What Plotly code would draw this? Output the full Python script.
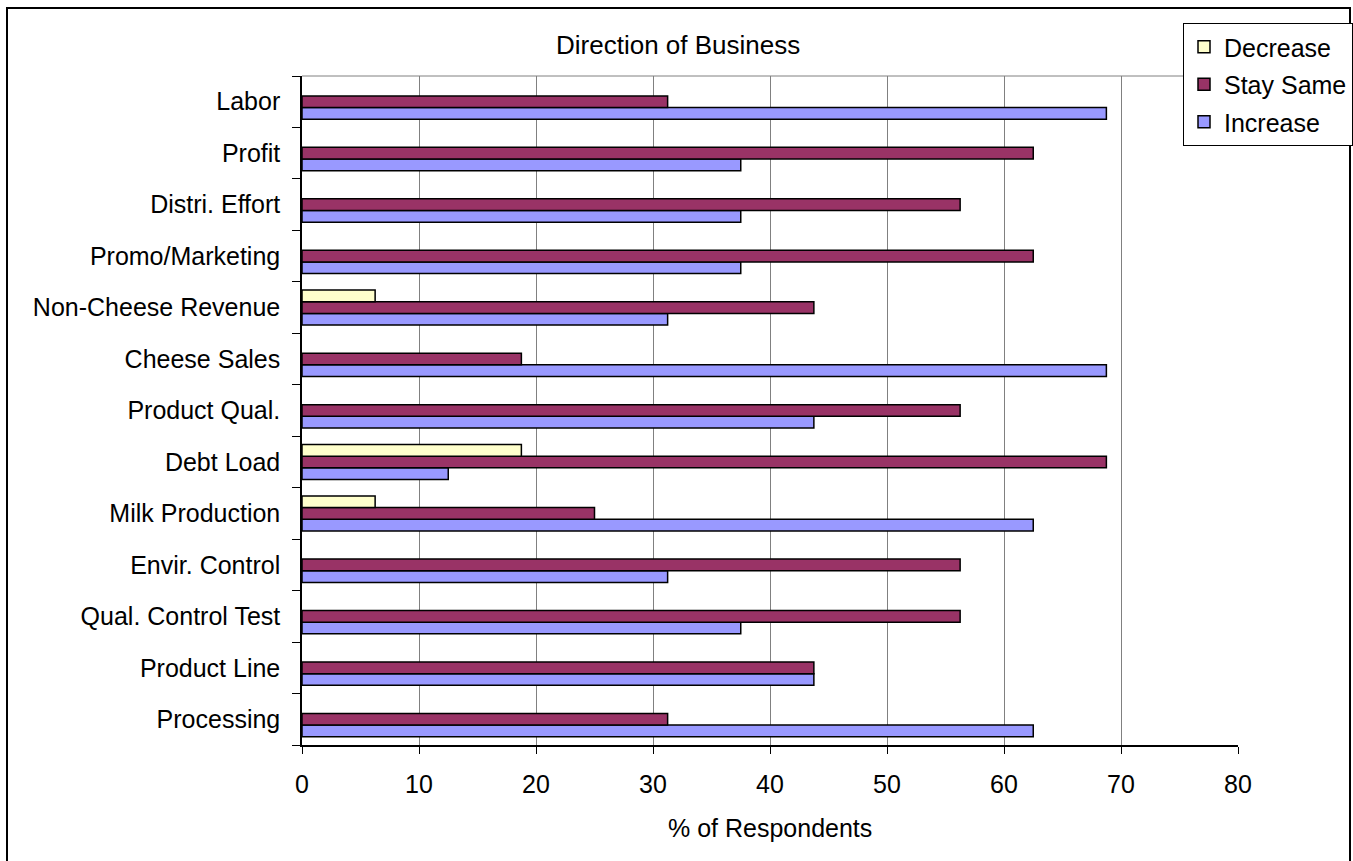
import plotly.graph_objects as go

categories = ["Processing", "Product Line", "Qual. Control Test", "Envir. Control",
              "Milk Production", "Debt Load", "Product Qual.", "Cheese Sales",
              "Non-Cheese Revenue", "Promo/Marketing", "Distri. Effort", "Profit", "Labor"]
decrease = [0, 0, 0, 0, 6.25, 18.75, 0, 0, 6.25, 0, 0, 0, 0]
stay_same = [31.25, 43.75, 56.25, 56.25, 25, 68.75, 56.25, 18.75, 43.75, 62.5, 56.25, 62.5, 31.25]
increase = [62.5, 43.75, 37.5, 31.25, 62.5, 12.5, 43.75, 68.75, 31.25, 37.5, 37.5, 37.5, 68.75]
x_ticks = [0, 10, 20, 30, 40, 50, 60, 70, 80]

FONT = "Liberation Sans, Arial, sans-serif"
FS = 25

W, H = 1353, 861
L, R, T, B = 302, 1238, 76, 745


def px_x(p):
    return (p - L) / (R - L)


def px_y(p):
    return (B - p) / (B - T)


def nz(vals):
    # zero-length bars are not drawn (no outline stub on the axis)
    return [v if v else None for v in vals]


fig = go.Figure()
line = dict(color="black", width=1.5)
fig.add_trace(go.Bar(name="Increase", y=categories, x=nz(increase), orientation="h",
                     legendgroup="c", legendrank=3,
                     marker=dict(color="#9999FF", line=line)))
fig.add_trace(go.Bar(name="Stay Same", y=categories, x=nz(stay_same), orientation="h",
                     legendgroup="b", legendrank=2,
                     marker=dict(color="#993366", line=line)))
fig.add_trace(go.Bar(name="Decrease", y=categories, x=nz(decrease), orientation="h",
                     legendgroup="a", legendrank=1,
                     marker=dict(color="#FFFFCC", line=line)))

fig.update_layout(
    width=W, height=H, autosize=False,
    margin=dict(l=L, r=W - R, t=T, b=H - B, pad=0, autoexpand=False),
    paper_bgcolor="white", plot_bgcolor="white",
    barmode="group", bargap=0.32, bargroupgap=0,
    font=dict(family=FONT, size=FS, color="black"),
    showlegend=True,
    legend=dict(traceorder="grouped", tracegroupgap=2,
                x=px_x(1183), y=px_y(23),
                xanchor="left", yanchor="top",
                bgcolor="white", bordercolor="black", borderwidth=1,
                font=dict(family=FONT, size=FS, color="black")),
    xaxis=dict(range=[0, 80], tickvals=x_ticks, ticktext=[str(v) for v in x_ticks],
               showgrid=True, gridcolor="#808080", gridwidth=1,
               showline=True, linecolor="black", linewidth=1.5,
               ticks="outside", ticklen=7, tickcolor="black", automargin=False,
               ticklabelstandoff=9, zeroline=False, fixedrange=True),
    yaxis=dict(type="category", categoryorder="array", categoryarray=categories,
               showgrid=False, showline=True, linecolor="black", linewidth=1.5,
               ticks="outside", ticklen=8, tickcolor="black", tickson="boundaries",
               automargin=False, ticklabelstandoff=15, fixedrange=True),
    shapes=[
        dict(type="line", xref="paper", yref="paper", x0=0, x1=1, y0=1, y1=1,
             line=dict(color="#808080", width=1), layer="below"),
        dict(type="rect", xref="paper", yref="paper",
             x0=px_x(7), x1=px_x(1350), y0=px_y(866), y1=px_y(8),
             line=dict(color="black", width=2), layer="above"),
    ],
    annotations=[
        dict(text="Direction of Business", xref="paper", yref="paper",
             x=px_x(678), y=px_y(45), xanchor="center", yanchor="middle",
             showarrow=False, font=dict(family=FONT, size=26, color="black")),
        dict(text="% of Respondents", xref="paper", yref="paper",
             x=px_x(770), y=px_y(828), xanchor="center", yanchor="middle",
             showarrow=False, font=dict(family=FONT, size=FS, color="black")),
    ],
)

post = ("document.documentElement.style.overflow='hidden';"
        "document.body.style.overflow='hidden';"
        "document.body.style.margin='0';")

fig.write_html("out.html", config={"responsive": False}, post_script=post)
